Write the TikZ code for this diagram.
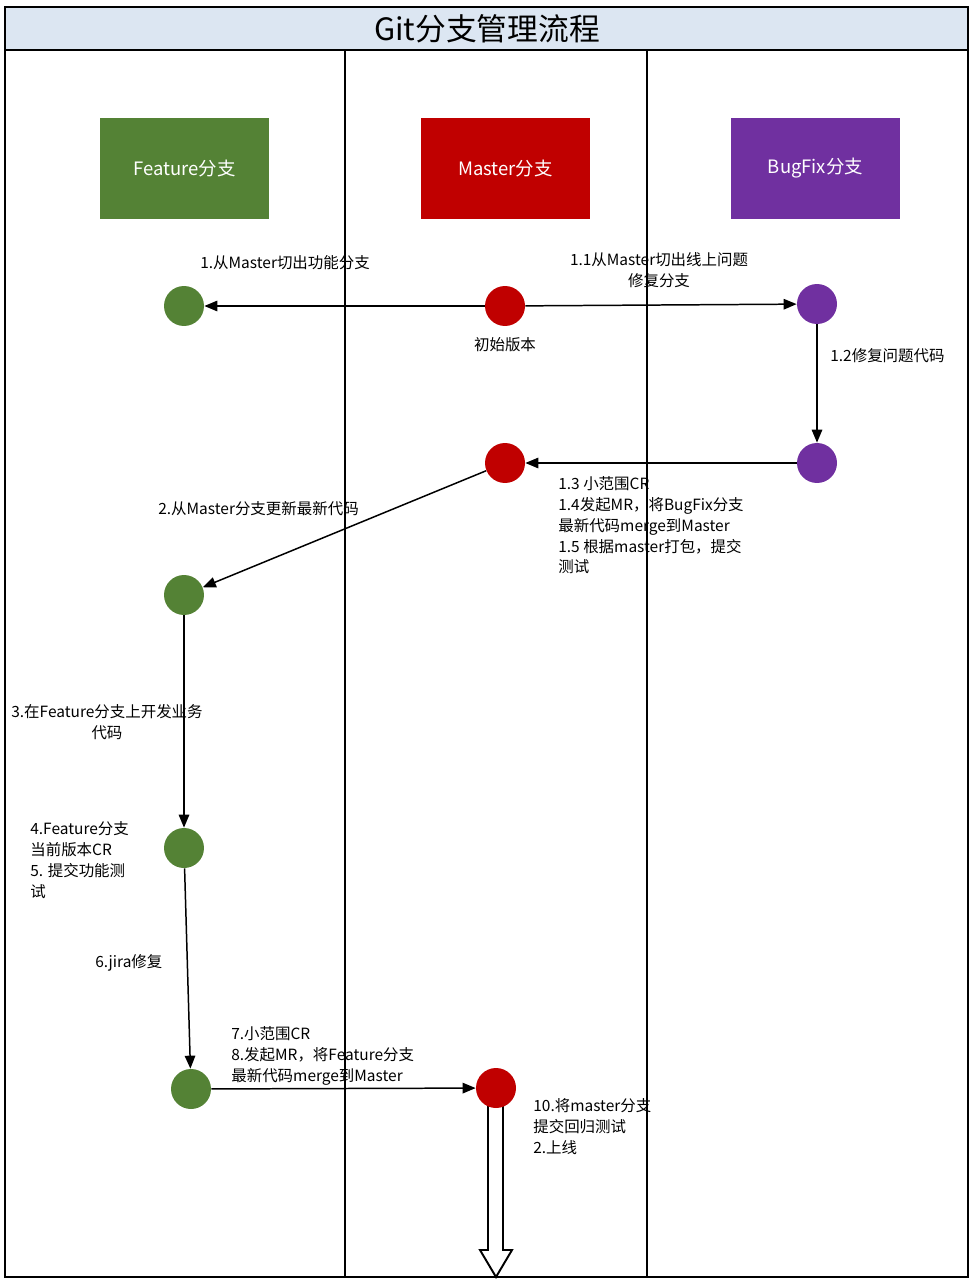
\documentclass[tikz,border=0pt]{standalone}
\usepackage{fontspec}
\setmainfont{Noto Sans CJK SC}
\usepackage{tikz}
\usetikzlibrary{arrows.meta}
\definecolor{featgreen}{HTML}{548235}
\definecolor{mastred}{HTML}{C00000}
\definecolor{bugpurple}{HTML}{7030A0}
\definecolor{titleblue}{HTML}{DCE6F2}
\tikzset{
lane/.style={line width=1.1pt},
branchbox/.style={rectangle, minimum width=3.4cm, minimum height=2.02cm, text=white, font=\fontsize{10.5}{12}\selectfont},
commit/.style={shape=circle, minimum size=0.8cm, inner sep=0pt},
arr/.style={line width=0.85pt, -{Triangle[length=2.6mm,width=2.1mm]}},
note/.style={inner sep=0pt, align=left, font=\fontsize{8.8}{11.9}\selectfont}}

\begin{document}
\begin{tikzpicture}[x=0.02cm, y=-0.02cm]
    \useasboundingbox (0,0) rectangle (974,1287);

                \draw[lane, fill=titleblue] (5,7) rectangle (968,50);
                \node[font=\fontsize{17.5}{20}\selectfont] (title) at (487,29) {Git分支管理流程};
                \draw[lane] (5,50) rectangle (968,1277);
                \draw[lane] (345,50) -- (345,1277);
                \draw[lane] (647,50) -- (647,1277);

                \node[branchbox, fill=featgreen] (FB) at (184.5,168.5) {Feature分支};
                \node[branchbox, fill=mastred] (MB) at (505.5,168.5) {Master分支};
                \node[branchbox, fill=bugpurple] (BB) at (815.5,168.5) {BugFix分支};

                \coordinate (out) at (496,1277);
                \draw[line width=1.1pt, fill=white] (488,1098) -- (488,1250) -- (480,1250) -- (out) -- (512,1250) -- (503,1250) -- (503,1098) -- (496,1106) -- cycle;

                \node[commit, fill=featgreen] (F1) at (184,306) {};
                \node[commit, fill=mastred, label={[note, yshift=-6pt]below:初始版本}] (M1) at (505,306) {};
                \node[commit, fill=bugpurple] (B1) at (817,304) {};
                \node[commit, fill=bugpurple] (B2) at (817,463) {};
                \node[commit, fill=mastred] (M2) at (505,463) {};
                \node[commit, fill=featgreen] (F2) at (184,595) {};
                \node[commit, fill=featgreen] (F3) at (184,848) {};
                \node[commit, fill=featgreen] (F4) at (191,1089) {};
                \node[commit, fill=mastred] (M3) at (496,1088) {};

                \draw[arr] (M1) -- (F1);
                \draw[arr] (M1) -- (B1);
                \draw[arr] (B1) -- (B2);
                \draw[arr] (B2) -- (M2);
                \draw[arr] (M2) -- (F2);
                \draw[arr] (F2) -- (F3);
                \draw[arr] (F3) -- (F4);
                \draw[arr] (F4) -- (M3);

                \node[note, anchor=north west] (n1) at (200,255) {1.从Master切出功能分支};
                \node[note, anchor=north, align=center] (n11) at (659,252) {1.1从Master切出线上问题\\修复分支};
                \node[note, anchor=north west] (n12) at (830,348) {1.2修复问题代码};
                \node[note, anchor=north west] (n13) at (558,476) {1.3 小范围CR\\1.4发起MR，将BugFix分支\\最新代码merge到Master\\1.5 根据master打包，提交\\测试};
                \node[note, anchor=north west] (n2) at (158,501) {2.从Master分支更新最新代码};
                \node[note, anchor=north, align=center] (n3) at (107,704) {3.在Feature分支上开发业务\\代码};
                \node[note, anchor=north west] (n4) at (30,821) {4.Feature分支\\当前版本CR\\5. 提交功能测\\试};
                \node[note, anchor=north west] (n6) at (95,954) {6.jira修复};
                \node[note, anchor=north west] (n7) at (231,1026) {7.小范围CR\\8.发起MR，将Feature分支\\最新代码merge到Master};
                \node[note, anchor=north west] (n10) at (533,1098) {10.将master分支\\提交回归测试\\2.上线};

            \end{tikzpicture}
\end{document}
